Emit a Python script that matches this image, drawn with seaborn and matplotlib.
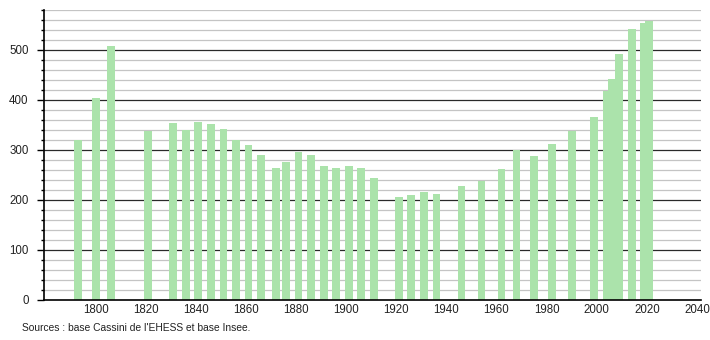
import matplotlib
matplotlib.use("Agg")
import matplotlib.pyplot as plt
import seaborn as sns
import pandas as pd
import numpy as np
from matplotlib.ticker import MultipleLocator

years = [1793, 1800, 1806, 1821, 1831, 1836, 1841, 1846, 1851, 1856, 1861, 1866,
         1872, 1876, 1881, 1886, 1891, 1896, 1901, 1906, 1911, 1921, 1926, 1931,
         1936, 1946, 1954, 1962, 1968, 1975, 1982, 1990, 1999, 2004, 2006, 2009,
         2014, 2019, 2021]
population = [320, 405, 509, 339, 355, 340, 356, 353, 343, 321, 311, 291,
              265, 277, 297, 291, 268, 265, 269, 264, 244, 206, 210, 217,
              212, 228, 239, 262, 300, 289, 312, 339, 366, 418, 443, 493,
              543, 555, 559]
x_ticks = [1800, 1820, 1840, 1860, 1880, 1900, 1920, 1940, 1960, 1980, 2000, 2020, 2040]
source_text = "Sources : base Cassini de l'EHESS et base Insee."

df = pd.DataFrame({"year": years, "pop": population})

sns.set_theme(style="white")
plt.rcParams["font.family"] = ["Liberation Sans", "DejaVu Sans"]

fig = plt.figure(figsize=(7.1, 3.4), dpi=100)
ax = fig.add_axes([44 / 710, 40 / 340, (701 - 44) / 710, 290 / 340])

# gridlines
for v in range(20, 581, 20):
    if v % 100 == 0:
        ax.axhline(v, color="#2a2a2a", lw=0.9, zorder=0)
    else:
        ax.axhline(v, color="#c4c4c4", lw=0.9, zorder=0)

sns.barplot(data=df, x="year", y="pop", native_scale=True, width=1.55,
            color="#abe3ab", saturation=1, edgecolor="none", linewidth=0,
            errorbar=None, ax=ax, zorder=2)

ax.set_xlim(1779.4, 2041.6)
ax.set_ylim(0, 580)
ax.set_xticks(x_ticks)
ax.set_xticklabels([str(t) for t in x_ticks])
ax.set_yticks([0, 100, 200, 300, 400, 500])
ax.yaxis.set_minor_locator(MultipleLocator(20))
ax.set_xlabel("")
ax.set_ylabel("")

for s in ["top", "right"]:
    ax.spines[s].set_visible(False)
ax.spines["left"].set_color("black")
ax.spines["bottom"].set_color("black")
ax.spines["left"].set_linewidth(1.2)
ax.spines["bottom"].set_linewidth(1.2)

ax.tick_params(axis="x", length=0, pad=3, labelsize=8.3, colors="#222222")
ax.tick_params(axis="y", which="major", length=5, width=1, color="black",
               left=True, pad=6, labelsize=8.3, labelcolor="#222222")
ax.tick_params(axis="y", which="minor", length=2.5, width=1, color="black", left=True)

fig.text(22 / 710, 1 - 328 / 340, source_text, fontsize=7.4, color="#222222",
         ha="left", va="center")

fig.savefig("out.png", dpi=100, facecolor="white")
